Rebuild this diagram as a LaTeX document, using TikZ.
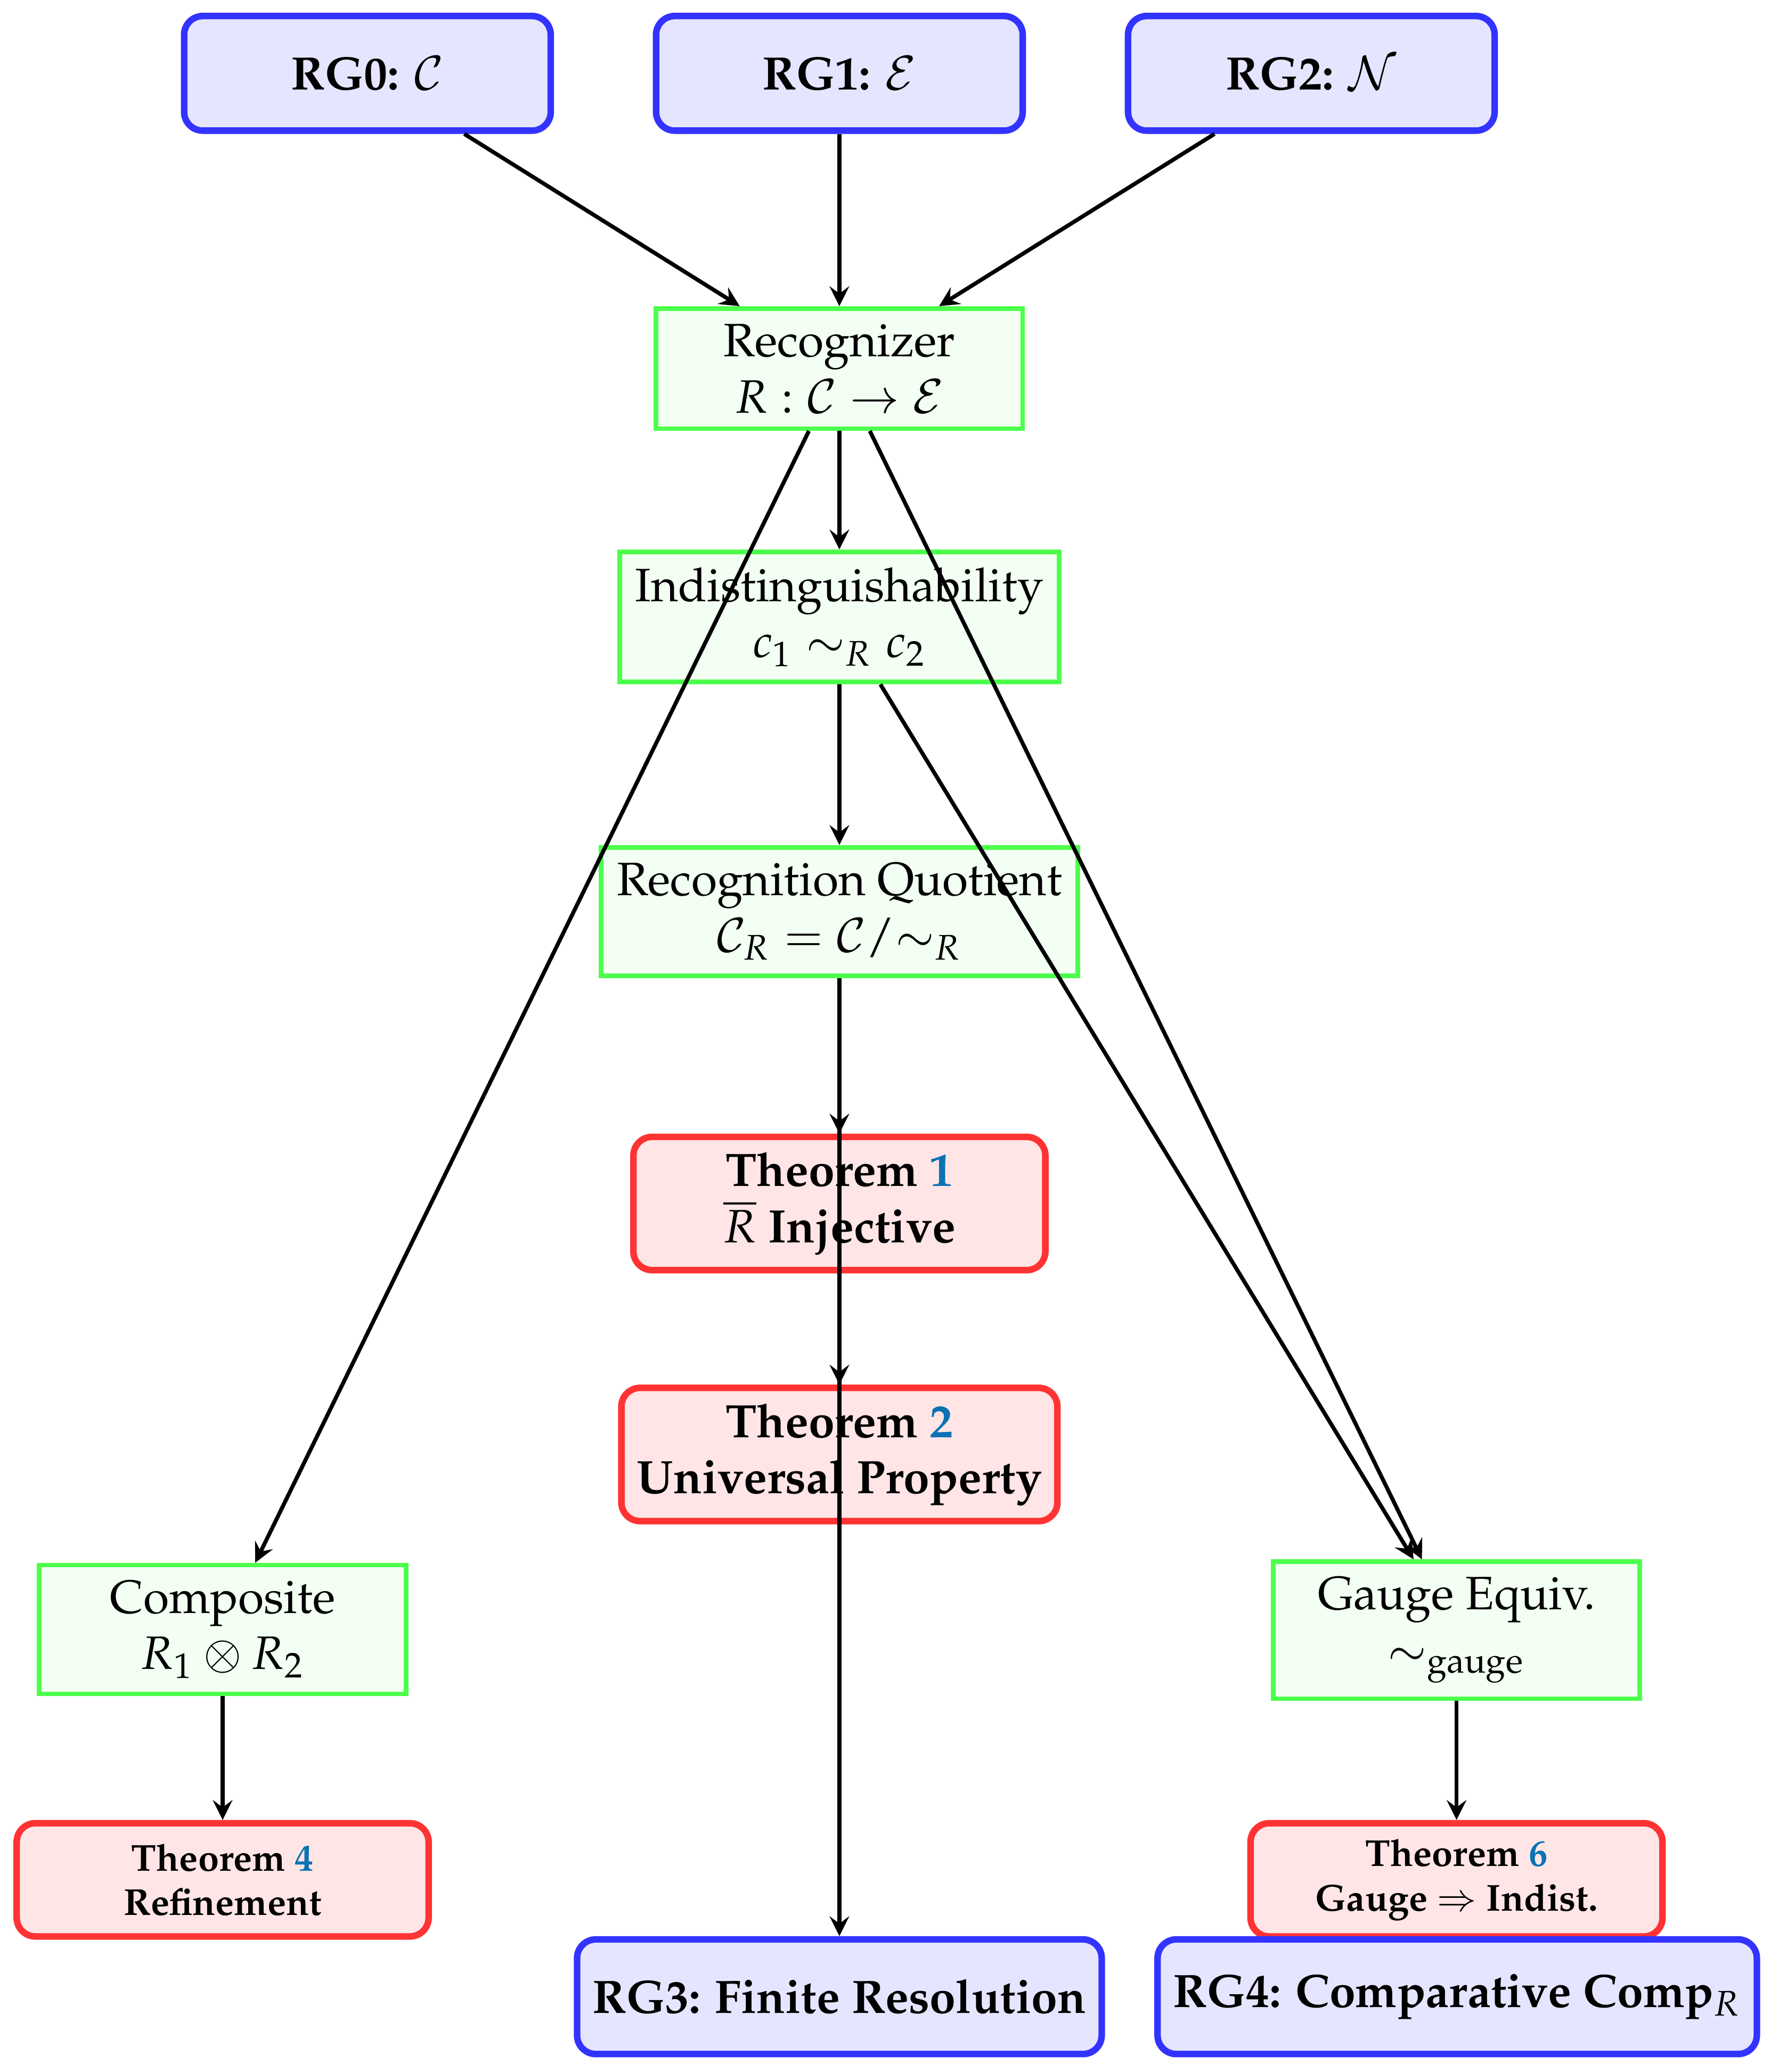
\documentclass[tikz,border=0pt]{standalone}
\usepackage{amssymb}
\usepackage{amsmath}
\usepackage[T1]{fontenc}
\usepackage{mathpazo}
\usepackage{xcolor}
\usepackage{tikz}
\usetikzlibrary{shapes,arrows,positioning}

\definecolor{refblue}{RGB}{11,114,180}
\tikzset{
  rgbox/.style={rectangle, rounded corners, draw=blue!80, fill=blue!10, line width=1.4pt, minimum width=2.75cm, minimum height=0.86cm, align=center, font=\bfseries},
  defbox/.style={rectangle, draw=green!70, fill=green!5, line width=1pt, minimum width=2.75cm, align=center},
  thmbox/.style={rectangle, rounded corners, draw=red!80, fill=red!10, line width=1.4pt, minimum width=3.09cm, minimum height=0.85cm, align=center, font=\bfseries},
  link/.style={black, line width=0.85pt, ->, >=stealth}
}

\begin{document}
\begin{tikzpicture}
\useasboundingbox (0,0) rectangle (13.28,-15.545);
\node[rgbox] (rg0) at (2.756,-0.55) {RG0: $\mathcal{C}$};
\node[rgbox] (rg1) at (6.296,-0.55) {RG1: $\mathcal{E}$};
\node[rgbox] (rg2) at (9.836,-0.55) {RG2: $\mathcal{N}$};
\node[defbox] (rec) at (6.296,-2.765) {Recognizer\\$R : \mathcal{C} \to \mathcal{E}$};
\node[defbox] (ind) at (6.296,-4.628) {Indistinguishability\\$c_1 \sim_R c_2$};
\node[defbox] (quot) at (6.296,-6.839) {Recognition Quotient\\$\mathcal{C}_R = \mathcal{C}/{\sim_R}$};
\node[thmbox] (thm1) at (6.296,-9.029) {Theorem {\color{refblue}1}\\$\overline{R}$ Injective};
\node[thmbox] (thm2) at (6.296,-10.912) {Theorem {\color{refblue}2}\\Universal Property};
\node[defbox] (comp) at (1.67,-12.225) {Composite\\$R_1 \otimes R_2$};
\node[defbox] (gauge) at (10.925,-12.23) {Gauge Equiv.\\$\sim_{\text{gauge}}$};
\node[thmbox, font=\footnotesize\bfseries] (thm4) at (1.67,-14.103) {Theorem {\color{refblue}4}\\Refinement};
\node[thmbox, font=\footnotesize\bfseries] (thm6) at (10.925,-14.103) {Theorem {\color{refblue}6}\\Gauge $\Rightarrow$ Indist.};
\node[rgbox] (rg3) at (6.296,-14.98) {RG3: Finite Resolution};
\node[rgbox] (rg4) at (10.93,-14.98) {RG4: Comparative Comp$_R$};

\draw[link] (rg0) -- (rec);
\draw[link] (rg1) -- (rec);
\draw[link] (rg2) -- (rec);
\draw[link] (rec) -- (ind);
\draw[link] (ind) -- (quot);
\draw[link] (quot) -- (thm1);
\draw[link] (quot) -- (thm2);
\draw[link] (quot) -- (rg3);
\draw[link] (rec) -- (comp);
\draw[link] (rec) -- (gauge);
\draw[link] (ind) -- (gauge);
\draw[link] (comp) -- (thm4);
\draw[link] (gauge) -- (thm6);
\end{tikzpicture}
\end{document}
